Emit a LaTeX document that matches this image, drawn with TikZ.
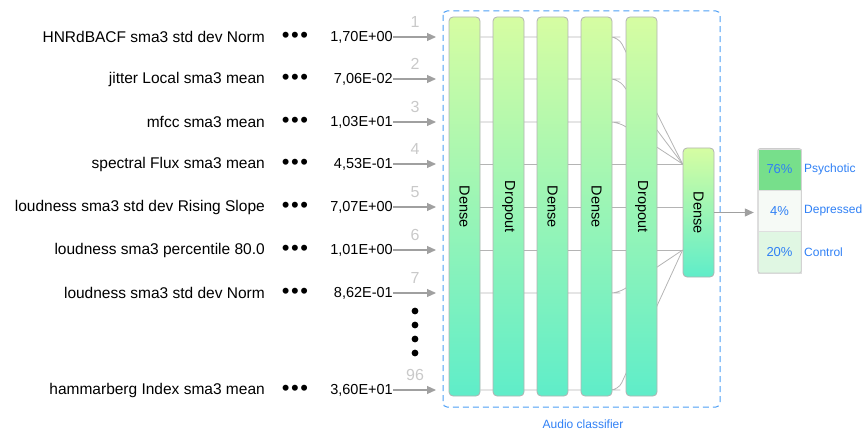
\documentclass[tikz,border=0pt]{standalone}
\usepackage{fontspec}
\setmainfont{Liberation Sans}
\usepackage{tikz}
\usetikzlibrary{arrows.meta}
\usetikzlibrary{backgrounds}
\usepackage{xcolor}
\definecolor{bartop}{HTML}{D6FDA2}
\definecolor{barbot}{HTML}{5FEDC9}
\definecolor{linkgray}{HTML}{B4B4B4}
\definecolor{arrowgray}{HTML}{A0A0A0}
\definecolor{numgray}{HTML}{C9C9C9}
\definecolor{uiblue}{HTML}{2F80F5}
\definecolor{frameblue}{HTML}{4C9EF5}
\definecolor{psygreen}{HTML}{77DF8B}
\definecolor{depwhite}{HTML}{F6FAF6}
\definecolor{ctlgreen}{HTML}{E0F7E3}
\newcommand{\inputrow}[5]{ % Takes row index, y position, feature name, value, number above the arrow
    \node [feat, anchor=east] (f#1) at (265,#2) {#3};
    \node [bullets] (d#1) at (295,#2) {\textbullet\hspace{1.5pt}\textbullet\hspace{1.5pt}\textbullet};
    \node [val, anchor=east] (v#1) at (393,#2) {#4};
    \coordinate (in#1) at (436,#2);
    \draw [inarrow] (v#1) -- (in#1);
    \node [num] (n#1) at (415,#2-15) {#5};
}

\begin{document}
\begin{tikzpicture}[x=1pt, y=-1pt,
        feat/.style={font=\fontsize{15.5}{18}\selectfont, inner sep=0pt},
        bullets/.style={font=\fontsize{22}{24}\selectfont, inner sep=0pt},
        val/.style={font=\fontsize{14.5}{18}\selectfont, inner sep=0pt},
        num/.style={font=\fontsize{16}{18}\selectfont, text=numgray, inner sep=0pt},
        inarrow/.style={draw=arrowgray, line width=1.1pt, -{Triangle[length=9pt, width=8pt]}},
        link/.style={draw=linkgray, line width=0.8pt},
        bar/.style={draw=gray!60, line width=0.8pt, rounded corners=4pt, top color=bartop, bottom color=barbot,
            minimum width=31pt, inner sep=0pt, font=\fontsize{14.5}{18}\selectfont},
        cell/.style={draw=gray!25, minimum width=43pt, minimum height=41.3pt, inner sep=0pt,
            text=uiblue, font=\fontsize{13}{15}\selectfont},
        outlabel/.style={text=uiblue, font=\fontsize{12}{15}\selectfont, inner sep=0pt, anchor=west}]
    \useasboundingbox (0,0) rectangle (864,430);

    % Input features
    \inputrow{1}{37}{HNRdBACF sma3 std dev Norm}{1,70E+00}{1}
    \inputrow{2}{79}{jitter Local sma3 mean}{7,06E-02}{2}
    \inputrow{3}{122}{mfcc sma3 mean}{1,03E+01}{3}
    \inputrow{4}{164}{spectral Flux sma3 mean}{4,53E-01}{4}
    \inputrow{5}{207}{loudness sma3 std dev Rising Slope}{7,07E+00}{5}
    \inputrow{6}{250}{loudness sma3 percentile 80.0}{1,01E+00}{6}
    \inputrow{7}{293}{loudness sma3 std dev Norm}{8,62E-01}{7}
    \inputrow{8}{390}{hammarberg Index sma3 mean}{3,60E+01}{96}

    % Skipped inputs
    \fill (415,311) circle (3.4pt);
    \fill (415,325) circle (3.4pt);
    \fill (415,339) circle (3.4pt);
    \fill (415,353) circle (3.4pt);

    % Layers
    \node [bar, minimum height=379pt] (b1) at (464.5,206.5) {\rotatebox{-90}{Dense}};
    \node [bar, minimum height=379pt] (b2) at (508.5,206.5) {\rotatebox{-90}{Dropout}};
    \node [bar, minimum height=379pt] (b3) at (552.5,206.5) {\rotatebox{-90}{Dense}};
    \node [bar, minimum height=379pt] (b4) at (596.5,206.5) {\rotatebox{-90}{Dense}};
    \node [bar, minimum height=379pt] (b5) at (641.5,206.5) {\rotatebox{-90}{Dropout}};
    \node [bar, minimum height=129pt] (b6) at (698.5,212.5) {\rotatebox{-90}{Dense}};

    % Links between layers
    \begin{scope}[on background layer]
        \draw [link, rounded corners=8pt] (b1.east |- in1) -- (b4.east |- in1) -- ++(6,0) -- (b6.west |- in4);
        \draw [link, rounded corners=8pt] (b1.east |- in2) -- (b4.east |- in2) -- ++(6,0) -- (b6.west |- in4);
        \draw [link, rounded corners=8pt] (b1.east |- in3) -- (b4.east |- in3) -- ++(6,0) -- (b6.west |- in4);
        \draw [link] (b1.east |- in4) -- (b6.west |- in4);
        \draw [link] (b1.east |- in5) -- (b6.west |- in5);
        \draw [link] (b1.east |- in6) -- (b6.west |- in6);
        \draw [link, rounded corners=8pt] (b1.east |- in7) -- (b4.east |- in7) -- ++(6,0) -- (b6.west |- in6);
        \draw [link, rounded corners=8pt] (b1.east |- in8) -- (b4.east |- in8) -- ++(6,0) -- (b6.west |- in6);
    \end{scope}

    % Classifier frame
    \draw [frameblue, line width=1pt, dash pattern=on 6pt off 4pt, rounded corners=4pt] (443,11) rectangle (720,407);
    \node [text=uiblue, font=\fontsize{12}{14}\selectfont, anchor=base] (cap) at (583,428) {Audio classifier};

    % Output
    \node [cell, fill=psygreen] (p1) at (779.5,169.5) {76\%};
    \node [cell, fill=depwhite] (p2) at (779.5,210.8) {4\%};
    \node [cell, fill=ctlgreen] (p3) at (779.5,252.1) {20\%};
    \draw [gray!40, line width=0.8pt, rounded corners=2pt] (p1.north west) rectangle (p3.south east);
    \node [outlabel] (l1) at (804,169.5) {Psychotic};
    \node [outlabel] (l2) at (804,210.8) {Depressed};
    \node [outlabel] (l3) at (804,252.1) {Control};
    \draw [inarrow, shorten >=4pt] (b6.east) -- (b6.east -| p2.west);
\end{tikzpicture}
\end{document}
